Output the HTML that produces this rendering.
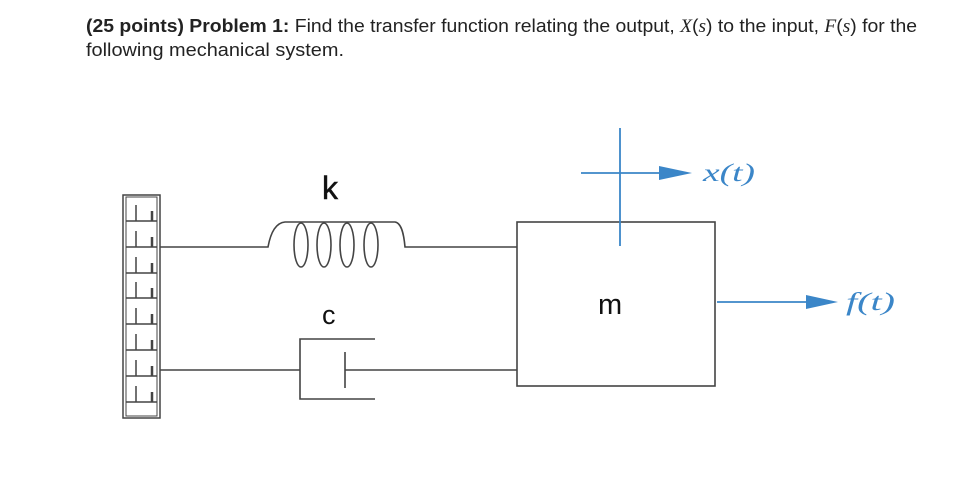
<!DOCTYPE html>
<html><head><meta charset="utf-8"><style>
html,body{margin:0;padding:0;background:#fff;}
svg{display:block;}
</style></head><body>
<svg width="967" height="477" viewBox="0 0 967 477" xmlns="http://www.w3.org/2000/svg">
<g font-family="Liberation Sans, sans-serif" font-size="18.5" fill="#222">
<text x="86" y="32" textLength="831" lengthAdjust="spacingAndGlyphs"><tspan font-weight="bold">(25 points) Problem 1:</tspan> Find the transfer function relating the output, <tspan font-family="Liberation Serif, serif" font-style="italic">X</tspan>(<tspan font-family="Liberation Serif, serif" font-style="italic">s</tspan>) to the input, <tspan font-family="Liberation Serif, serif" font-style="italic">F</tspan>(<tspan font-family="Liberation Serif, serif" font-style="italic">s</tspan>) for the</text>
<text x="86" y="56" textLength="258" lengthAdjust="spacingAndGlyphs">following mechanical system.</text>
</g>
<!-- wall -->
<g stroke="#444" stroke-width="1.5" fill="none">
<rect x="123" y="195" width="37" height="223"/>
<rect x="126" y="197" width="31" height="219" stroke-width="1"/>
<path d="M126 221H157M126 247H157M126 273H157M126 298H157M126 324H157M126 350H157M126 376H157M126 402H157"/>
<path d="M136 205V221M136 231V247M136 257V273M136 282V298M136 308V324M136 334V350M136 360V376M136 386V402"/>
<path d="M152 211V221M152 237V247M152 263V273M152 288V298M152 314V324M152 340V350M152 366V376M152 392V402" stroke-width="2.5"/>
</g>
<g stroke="#444" stroke-width="1.6" fill="none">
<path d="M160 247H268 C270 236,274 223,285 222 H395 C402 223,404 236,405 247 H517"/>
<ellipse cx="301" cy="245" rx="7" ry="22"/>
<ellipse cx="324" cy="245" rx="7" ry="22"/>
<ellipse cx="347" cy="245" rx="7" ry="22"/>
<ellipse cx="371" cy="245" rx="7" ry="22"/>
<path d="M160 370H300M375 339H300V399H375M345 352V388M345 370H517"/>
<rect x="517" y="222" width="198" height="164"/>
</g>
<g font-family="Liberation Sans, sans-serif" fill="#111">
<text x="322" y="199" font-size="32" stroke="#111" stroke-width="0.5">k</text>
<text x="322" y="324" font-size="27">c</text>
<text x="598" y="314" font-size="29">m</text>
</g>
<g stroke="#3b86c8" stroke-width="1.8" fill="none">
<path d="M620 128V246M581 173H665M717 302H812"/>
</g>
<g fill="#3b86c8">
<polygon points="659,166 692,173 659,180"/>
<polygon points="806,295 838,302 806,309"/>
<g font-family="Liberation Serif, serif" font-style="italic" font-size="25">
<text x="703" y="181" textLength="52" lengthAdjust="spacingAndGlyphs">x(t)</text>
<text x="846" y="310" textLength="49" lengthAdjust="spacingAndGlyphs">f(t)</text>
</g>
</g>
</svg>
</body></html>
